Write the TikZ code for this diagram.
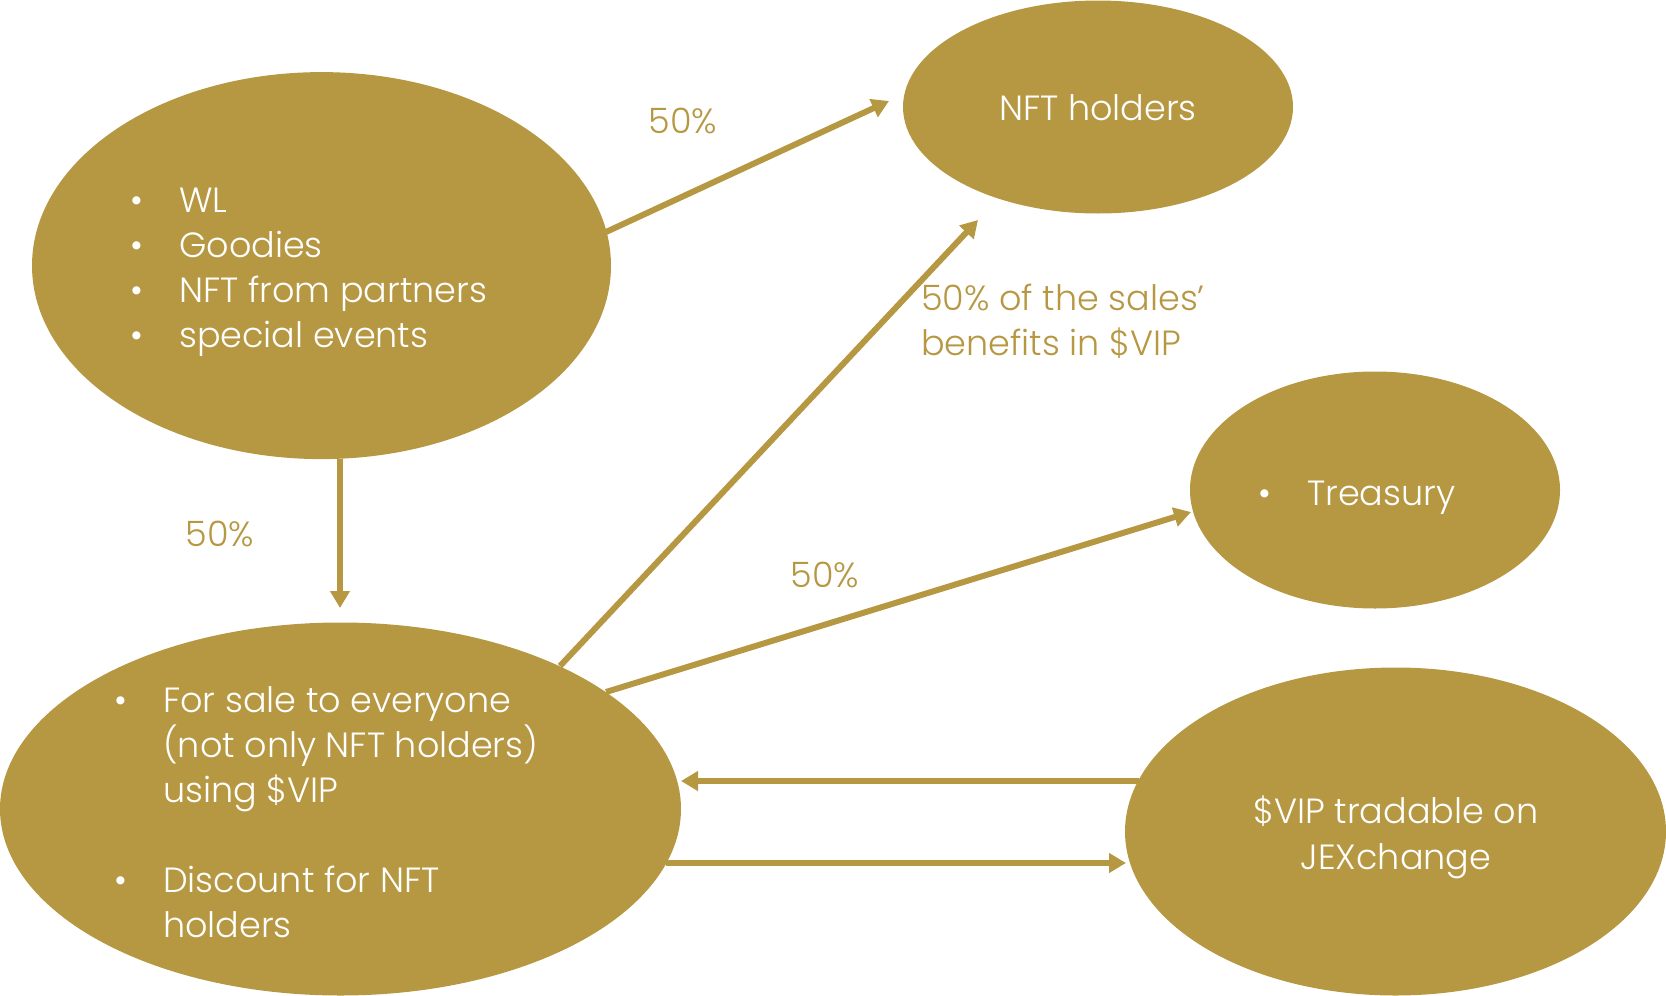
\documentclass[tikz,border=0pt]{standalone}
\usepackage{fontspec}
\setmainfont{Poppins Light}
\usetikzlibrary{shapes.geometric,arrows.meta}
\definecolor{gold}{HTML}{B69843}
\tikzset{
  blob/.style={ellipse, fill=gold, draw=none, inner sep=0pt},
  wtxt/.style={text=white, font=\fontsize{35}{45}\selectfont, inner sep=0pt, anchor=base west},
  gtxt/.style={text=gold, font=\fontsize{35}{45}\selectfont, inner sep=0pt, anchor=base west},
  flow/.style={draw=gold, line width=6pt, -{Triangle[length=17pt,width=19pt]}},
}
\begin{document}
\begin{tikzpicture}[x=1pt,y=-1pt]
\useasboundingbox (0,0) rectangle (1666,996);
% ellipses
\node[blob, minimum width=579pt, minimum height=387pt] (src) at (321.5,265.6) {};
\node[blob, minimum width=390pt, minimum height=213pt] (nft) at (1098,107) {};
\node[blob, minimum width=370pt, minimum height=237pt] (tre) at (1375,490) {};
\node[blob, minimum width=681pt, minimum height=373pt] (sale) at (340.5,809) {};
\node[blob, minimum width=541pt, minimum height=328pt] (vip) at (1395.5,831.5) {};
% texts in src
\node[wtxt] (b1) at (130,212) {\textbullet};
\node[wtxt] (t1) at (179,212) {WL};
\node[wtxt] (b2) at (130,257) {\textbullet};
\node[wtxt] (t2) at (179,257) {Goodies};
\node[wtxt] (b3) at (130,302) {\textbullet};
\node[wtxt] (t3) at (179,302) {NFT from partners};
\node[wtxt] (b4) at (130,347) {\textbullet};
\node[wtxt] (t4) at (179,347) {special events};
% nft holders
\node[wtxt, anchor=base] (tn) at (1098,120) {NFT holders};
% treasury
\node[wtxt] (b5) at (1258,505) {\textbullet};
\node[wtxt] (t5) at (1307,505) {Treasury};
% sale
\node[wtxt] (b6) at (114,712) {\textbullet};
\node[wtxt] (t6a) at (163,712) {For sale to everyone};
\node[wtxt] (t6b) at (163,757) {(not only NFT holders)};
\node[wtxt] (t6c) at (163,802) {using \$VIP};
\node[wtxt] (b7) at (114,892) {\textbullet};
\node[wtxt] (t7a) at (163,892) {Discount for NFT};
\node[wtxt] (t7b) at (163,937) {holders};
% vip
\node[wtxt, anchor=base] (tv1) at (1396,823) {\$VIP tradable on};
\node[wtxt, anchor=base] (tv2) at (1396,869) {JEXchange};
% labels
\node[gtxt, anchor=base] (l1) at (683,133) {50\%};
\node[gtxt, anchor=base] (l2) at (220,546) {50\%};
\node[gtxt, anchor=base] (l3) at (825,587) {50\%};
\node[gtxt] (l4a) at (921,310) {50\% of the sales’};
\node[gtxt] (l4b) at (921,355) {benefits in \$VIP};
% connector endpoints
\coordinate (a1s) at (606,232);
\coordinate (a1e) at (889,101);
\coordinate (a2s) at (340,459);
\coordinate (a2e) at (340,608);
\coordinate (a3s) at (560,666);
\coordinate (a3e) at (978,220);
\coordinate (a4s) at (606,692);
\coordinate (a4e) at (1191,512);
\coordinate (a5s) at (1139,781);
\coordinate (a5e) at (681,781);
\coordinate (a6s) at (666,863);
\coordinate (a6e) at (1126,863);
\draw[flow] (a1s) -- (a1e);
\draw[flow] (a2s) -- (a2e);
\draw[flow] (a3s) -- (a3e);
\draw[flow] (a4s) -- (a4e);
\draw[flow] (a5s) -- (a5e);
\draw[flow] (a6s) -- (a6e);
\end{tikzpicture}
\end{document}
